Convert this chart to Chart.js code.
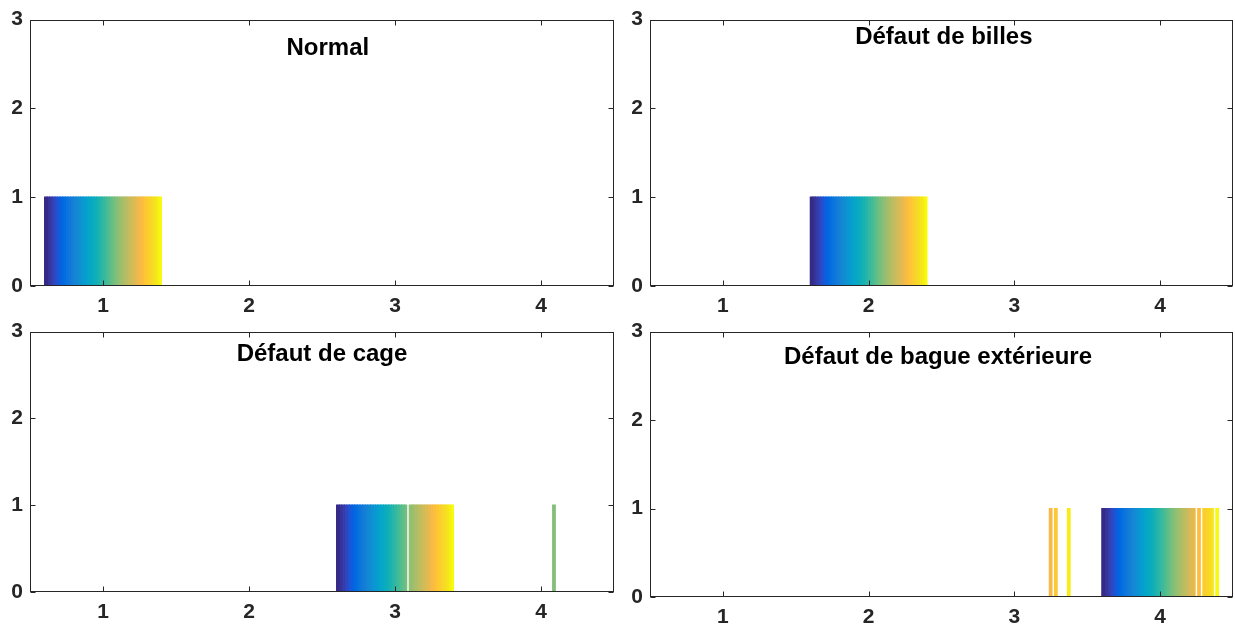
<!DOCTYPE html>
<html><head><meta charset="utf-8">
<script src="https://cdn.jsdelivr.net/npm/chart.js@4/dist/chart.umd.min.js"></script>
<style>
html,body{margin:0;padding:0;background:#fff;}
#wrap{position:relative;width:1235px;height:625px;overflow:hidden;background:#fff;}
canvas{position:absolute;}
</style></head><body>
<div id="wrap">
<canvas id="c0"></canvas><canvas id="c1"></canvas><canvas id="c2"></canvas><canvas id="c3"></canvas>
</div>
<script>
// ---- data ----
const categories = ['1', '2', '3', '4'];
const yTickValues = [0, 1, 2, 3];
const titles = ['Normal', 'Défaut de billes', 'Défaut de cage', 'Défaut de bague extérieure'];
// predicted class of each of the 45 bar series, per panel
const predNormal = [1,1,1,1,1,1,1,1,1,1,1,1,1,1,1,1,1,1,1,1,1,1,1,1,1,1,1,1,1,1,1,1,1,1,1,1,1,1,1,1,1,1,1,1,1];
const predBilles = [2,2,2,2,2,2,2,2,2,2,2,2,2,2,2,2,2,2,2,2,2,2,2,2,2,2,2,2,2,2,2,2,2,2,2,2,2,2,2,2,2,2,2,2,2];
const predCage   = [3,3,3,3,3,3,3,3,3,3,3,3,3,3,3,3,3,3,3,3,3,3,3,3,3,3,3,4,3,3,3,3,3,3,3,3,3,3,3,3,3,3,3,3,3];
const predBague  = [4,4,4,4,4,4,4,4,4,4,4,4,4,4,4,4,4,4,4,4,4,4,4,4,4,4,4,4,4,4,4,4,4,4,4,4,3,4,3,4,4,4,4,3,4];
const panelData = [predNormal, predBilles, predCage, predBague];

// ---- parula colormap (style) ----
const parulaMap = [
[0.2081,0.1663,0.5292],[0.2116,0.1898,0.5777],[0.2123,0.2138,0.6270],[0.2081,0.2386,0.6771],
[0.1959,0.2645,0.7279],[0.1707,0.2919,0.7792],[0.1253,0.3242,0.8303],[0.0591,0.3598,0.8683],
[0.0117,0.3875,0.8820],[0.0060,0.4086,0.8828],[0.0165,0.4266,0.8786],[0.0329,0.4430,0.8720],
[0.0498,0.4586,0.8641],[0.0629,0.4737,0.8554],[0.0723,0.4887,0.8467],[0.0779,0.5040,0.8384],
[0.0793,0.5200,0.8312],[0.0749,0.5375,0.8263],[0.0641,0.5570,0.8240],[0.0488,0.5772,0.8228],
[0.0343,0.5966,0.8199],[0.0265,0.6137,0.8135],[0.0239,0.6287,0.8038],[0.0231,0.6418,0.7913],
[0.0228,0.6535,0.7768],[0.0267,0.6642,0.7607],[0.0384,0.6743,0.7436],[0.0590,0.6838,0.7254],
[0.0843,0.6928,0.7062],[0.1133,0.7015,0.6859],[0.1453,0.7098,0.6646],[0.1801,0.7177,0.6424],
[0.2178,0.7250,0.6193],[0.2586,0.7317,0.5954],[0.3022,0.7376,0.5712],[0.3482,0.7424,0.5473],
[0.3953,0.7459,0.5244],[0.4420,0.7481,0.5033],[0.4871,0.7491,0.4840],[0.5300,0.7491,0.4661],
[0.5709,0.7485,0.4494],[0.6099,0.7473,0.4337],[0.6473,0.7456,0.4188],[0.6834,0.7435,0.4044],
[0.7184,0.7411,0.3905],[0.7525,0.7384,0.3768],[0.7858,0.7356,0.3633],[0.8185,0.7327,0.3498],
[0.8507,0.7299,0.3360],[0.8824,0.7274,0.3217],[0.9139,0.7258,0.3063],[0.9450,0.7261,0.2886],
[0.9739,0.7314,0.2666],[0.9938,0.7455,0.2403],[0.9990,0.7653,0.2164],[0.9955,0.7861,0.1967],
[0.9880,0.8066,0.1794],[0.9789,0.8271,0.1633],[0.9697,0.8481,0.1475],[0.9626,0.8705,0.1309],
[0.9589,0.8949,0.1132],[0.9598,0.9218,0.0948],[0.9661,0.9514,0.0755],[0.9763,0.9831,0.0538]];
function parula(t){
  const p = t*(parulaMap.length-1), i = Math.min(Math.floor(p), parulaMap.length-2), f = p-i;
  const a = parulaMap[i], b = parulaMap[i+1];
  const c = [0,1,2].map(k => Math.round(255*(a[k]+(b[k]-a[k])*f)));
  return `rgb(${c[0]},${c[1]},${c[2]})`;
}

// ---- layout (style) ----
const panels = [
  {id:'c0', left:0,   top:0,   w:617, h:312, padTop:18, padRight:3, xH:26, tx:0.510, ty:29},
  {id:'c1', left:620, top:0,   w:615, h:312, padTop:18, padRight:2, xH:26, tx:0.504, ty:18},
  {id:'c2', left:0,   top:312, w:617, h:313, padTop:11, padRight:3, xH:33, tx:0.500, ty:23},
  {id:'c3', left:620, top:312, w:615, h:313, padTop:17, padRight:2, xH:28, tx:0.494, ty:26},
];
const FONT = "'Liberation Sans', Arial, Helvetica, sans-serif";
const AXC = '#262626';

const framePlugin = {
  id: 'frameTicks',
  afterDraw(chart, args, opts) {
    const {ctx, chartArea: a, scales} = chart;
    ctx.save();
    ctx.strokeStyle = AXC; ctx.lineWidth = 1;
    const L = Math.round(a.left)+0.5, R = Math.round(a.right)-0.5, T = Math.round(a.top)+0.5, B = Math.round(a.bottom)-0.5;
    ctx.strokeRect(L, T, R-L, B-T);
    ctx.beginPath();
    categories.forEach((c, i) => {
      const x = Math.round(scales.x.getPixelForValue(i))+0.5;
      ctx.moveTo(x, B); ctx.lineTo(x, B-5);
      ctx.moveTo(x, T); ctx.lineTo(x, T+5);
    });
    yTickValues.forEach(v => {
      const y = Math.round(scales.y.getPixelForValue(v))+0.5;
      ctx.moveTo(L, y); ctx.lineTo(L+5, y);
      ctx.moveTo(R, y); ctx.lineTo(R-5, y);
    });
    ctx.stroke();
    // title inside axes
    ctx.fillStyle = '#000';
    ctx.font = `bold 24px ${FONT}`;
    ctx.textAlign = 'center'; ctx.textBaseline = 'middle';
    ctx.fillText(opts.text, a.left + opts.fx*(a.right-a.left), a.top + opts.dy);
    ctx.restore();
  }
};

panels.forEach((p, pi) => {
  const cv = document.getElementById(p.id);
  cv.width = p.w; cv.height = p.h;
  cv.style.left = p.left+'px'; cv.style.top = p.top+'px';
  cv.style.width = p.w+'px'; cv.style.height = p.h+'px';
  const pred = panelData[pi];
  const datasets = pred.map((cls, i) => ({
    data: categories.map((c, k) => (Number(c) === cls ? 1 : 0)),
    backgroundColor: parula(i/(pred.length-1)),
    borderWidth: 0,
    inflateAmount: 0.6,
    barPercentage: 1.0,
    categoryPercentage: 0.8
  }));
  new Chart(cv, {
    type: 'bar',
    data: {labels: categories, datasets},
    options: {
      responsive: false, animation: false, devicePixelRatio: 1,
      layout: {padding: {top: p.padTop, right: p.padRight, left: 0, bottom: 0}},
      plugins: {legend: {display: false}, tooltip: {enabled: false},
        frameTicks: {text: titles[pi], fx: p.tx, dy: p.ty}},
      scales: {
        x: {
          type: 'category', offset: true,
          grid: {display: false, drawTicks: false}, border: {display: false},
          ticks: {color: AXC, padding: 8, font: {family: FONT, size: 21, weight: 'bold'}, maxRotation: 0},
          afterFit(s) { s.height = p.xH; }
        },
        y: {
          min: 0, max: 3,
          grid: {display: false, drawTicks: false}, border: {display: false},
          ticks: {stepSize: 1, color: AXC, padding: 7, font: {family: FONT, size: 21, weight: 'bold'}},
          afterFit(s) { s.width = 30; }
        }
      }
    },
    plugins: [framePlugin]
  });
});
</script>
</body></html>
